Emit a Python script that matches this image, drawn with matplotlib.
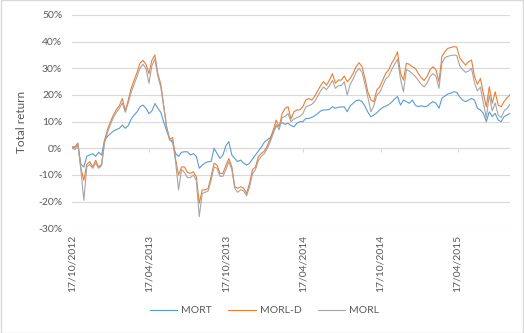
#!/usr/bin/env python3
"""Total return of MORT, MORL-D and MORL, weekly, Oct 2012 - Aug 2015."""

import matplotlib
matplotlib.use('Agg')
import matplotlib.pyplot as plt
import matplotlib.dates as mdates
from matplotlib.patches import Rectangle
from matplotlib.ticker import FuncFormatter
import pandas as pd

START = '2012-10-17'
N_WEEKS = 149

# total return in percent, one value per week
mort = [
    0, 0.5, 1, -6, -7, -3, -2.5, -2, -3, -1.5,
    -2.5, 3, 4.5, 5.5, 6.5, 7, 7.5, 8.7, 7.5, 8.5,
    11, 12.5, 13.7, 15.6, 16.2, 15, 13, 14, 16.8, 15,
    13.5, 9.8, 6.5, 3.5, 2, -2, -3, -1.5, -1.3, -1.3,
    -2.5, -2, -3, -7.5, -6.3, -5.5, -5, -5, 0, -1.9,
    -3.8, -2.5, 1, 2.5, -2.5, -3.8, -5, -4.4, -5.6, -6.3,
    -5.6, -4, -2.5, -1, 0.5, 2.3, 3.2, 4, 6.2, 8.1,
    8.7, 9.6, 9, 9.4, 8.5, 8.1, 9.4, 10, 10, 11.2,
    11.2, 11.6, 12.2, 13, 14, 14.4, 14.4, 14.6, 15.6, 15,
    15.4, 15.5, 15.6, 13.7, 15.9, 16.9, 17.9, 18.1, 17.5, 15.8,
    13.5, 11.8, 12.5, 13.3, 14.5, 15.3, 15.8, 16.4, 17.3, 18.5,
    19.4, 16.2, 18.1, 17.5, 16.9, 18.1, 16.2, 15.6, 16, 15.6,
    15.8, 16.8, 17.5, 16.9, 15, 18.8, 19.6, 20.4, 20.7, 21.2,
    21, 19.3, 18.1, 17.5, 18.1, 18.7, 18.1, 15, 14.4, 13.1,
    10, 13.7, 11.9, 13.1, 10.6, 10, 11.9, 12.5, 13.1,
]

morl_d = [
    0.6, 0.5, 2, -7.5, -12, -6, -5, -7, -4.5, -7,
    -6, 3, 7, 10, 12.5, 14.5, 16, 18.7, 14, 18,
    22.5, 25.6, 28.5, 32, 33, 31.5, 28, 33, 35, 28,
    24, 16, 8, 3.5, 4, -4, -10, -7, -7, -9,
    -9.4, -8.8, -10.6, -20.6, -15.6, -15.6, -15, -10.6, -5.6, -6.3,
    -9.4, -9.4, -6.5, -3.8, -6.9, -14.4, -15, -14.4, -15, -16.9,
    -13.1, -8, -7, -3.1, -1.9, -1, 1, 3.5, 6.9, 10.6,
    8.1, 13, 15, 15.6, 11, 13.7, 14.4, 14.4, 15.6, 18.1,
    18.7, 18.1, 19.5, 21.5, 23.5, 25, 23.7, 25.6, 28, 24.4,
    25.6, 25.6, 27.1, 25, 26.2, 28.1, 30.6, 32.1, 30.6, 26.2,
    21, 18.1, 17.5, 21.9, 23.1, 25.6, 28.1, 29.4, 31.9, 33.7,
    36.2, 28.1, 25.6, 31.9, 31.5, 30.6, 30, 28.1, 26.5, 25.5,
    27, 29.5, 30.6, 29.4, 25, 34.5, 36.2, 37.5, 37.8, 38.1,
    38, 34, 32.5, 31.2, 32.5, 33.1, 27, 24, 26.2, 20.6,
    15.6, 23.1, 16.9, 21.2, 16.2, 15.6, 17.5, 19, 20,
]

morl = [
    0.3, -0.5, 1.5, -8, -19.5, -7, -6, -7.5, -5.5, -7.5,
    -6.5, 2, 6, 9, 11.5, 13.5, 15, 17, 13.5, 17,
    21, 24, 27, 30, 31.5, 30, 24.4, 31, 33.5, 27,
    23, 15.5, 7.5, 3, 3, -5, -15.6, -8, -9, -11,
    -11, -10, -12, -25.6, -17, -16.5, -16, -12, -7, -7.5,
    -10.5, -10.5, -8, -5, -8, -15, -16.5, -15.5, -16, -17.8,
    -14.5, -9.5, -8, -4.5, -3, -2, 0, 2.5, 5.5, 9,
    7, 11.5, 12, 13, 10, 11, 11.5, 12, 13, 15.5,
    16, 16.5, 17.5, 19.5, 21.5, 23, 22, 23.5, 25.5, 22.5,
    23.5, 23.5, 25, 20, 24, 26, 28.5, 30, 28.5, 24,
    19, 13.7, 16, 20, 21, 23.5, 26, 27, 29.5, 31.5,
    33.5, 26, 21.2, 29.5, 29, 28, 27, 25.5, 24, 23,
    24.5, 27, 28, 27, 22.5, 32, 34, 34.5, 34.8, 35,
    34.8, 31, 29.5, 28.5, 29, 30, 24.5, 21.5, 23, 17,
    11.5, 20, 14, 17, 12.5, 11.5, 14, 15, 16.5,
]

series_names = ['MORT', 'MORL-D', 'MORL']
series_colors = ['#5B9BD5', '#ED7D31', '#A5A5A5']

tick_dates = ['2012-10-17', '2013-04-17', '2013-10-17',
              '2014-04-17', '2014-10-17', '2015-04-17']
y_ticks = [-30, -20, -10, 0, 10, 20, 30, 40, 50]

TEXT = '#595959'
GRID = '#D9D9D9'


def main() -> int:
    plt.rcParams['font.family'] = ['Lato', 'DejaVu Sans']

    dates = pd.date_range(START, periods=N_WEEKS, freq='7D')
    ticks = pd.to_datetime(tick_dates)

    fig = plt.figure(figsize=(5.24, 3.33), dpi=100)
    ax = fig.add_axes([72 / 524, 1 - 228.3 / 333, 438 / 524, 213.3 / 333])

    for values, name, color in zip([mort, morl_d, morl], series_names, series_colors):
        ax.plot(dates, values, color=color, linewidth=0.8, label=name)

    ax.set_xlim(dates[0], dates[-1])
    ax.set_ylim(-30, 50)
    ax.set_yticks(y_ticks)
    ax.yaxis.set_major_formatter(FuncFormatter(lambda v, _: f'{v:.0f}%'))
    ax.set_xticks(ticks)
    ax.xaxis.set_major_formatter(mdates.DateFormatter('%d/%m/%Y'))

    ax.grid(axis='y', color=GRID, linewidth=0.8)
    ax.set_axisbelow(True)
    for spine in ax.spines.values():
        spine.set_visible(False)

    # category axis crosses at 0%, tick marks hang below it
    ax.axhline(0, color=GRID, linewidth=0.8, zorder=0.5)
    ax.vlines(ticks[1:], -1.5, 0, color=GRID, linewidth=0.8, zorder=0.5)

    ax.tick_params(axis='both', length=0, colors=TEXT, labelsize=7.5)
    ax.tick_params(axis='x', pad=5, labelrotation=90)
    ax.tick_params(axis='y', pad=7)
    ax.set_ylabel('Total return', color=TEXT, fontsize=8.5, labelpad=8)

    fig.legend(loc='lower center', bbox_to_anchor=(0.505, 0.025), ncol=3,
               frameon=False, fontsize=7.5, labelcolor=TEXT,
               handlelength=2.6, handletextpad=0.4, columnspacing=1.6)

    fig.patches.append(Rectangle((0.001, 0.0015), 0.998, 0.997, transform=fig.transFigure,
                                 fill=False, edgecolor=GRID, linewidth=1))

    fig.savefig('out.png', dpi=100)
    return 0


if __name__ == '__main__':
    raise SystemExit(main())
